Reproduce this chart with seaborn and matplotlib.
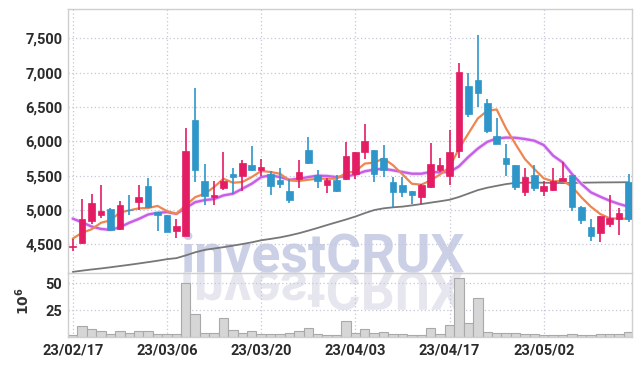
import numpy as np
import pandas as pd
import matplotlib
matplotlib.use("Agg")
import matplotlib.pyplot as plt
import matplotlib.patheffects as pe
from matplotlib.textpath import TextPath
from matplotlib.patches import PathPatch
from matplotlib.font_manager import FontProperties
from matplotlib.transforms import Affine2D
import seaborn as sns

# 1. data
tick_labels = ["23/02/17", "23/03/06", "23/03/20", "23/04/03", "23/04/17", "23/05/02"]

opens = [4465, 4517, 4836, 4932, 5020, 4725, 5005, 5111, 5353, 4971,
         4932, 4691, 4627, 6308, 5417, 5188, 5320, 5519, 5500, 5651,
         5578, 5529, 5437, 5271, 5451, 5872, 5515, 5363, 5441, 5456,
         5529, 5848, 5872, 5760, 5407, 5358, 5271, 5188, 5334, 5578,
         5490, 5860, 6805, 6893, 6552, 6075, 5758, 5655, 5257, 5515,
         5282, 5291, 5418, 5510, 5049, 4758, 4661, 4797, 4865, 5403]
highs = [4580, 5160, 5232, 5362, 5025, 5130, 5220, 5362, 5473, 4975,
         4935, 4870, 6190, 6771, 5675, 5422, 5846, 5617, 5724, 5938,
         5748, 5568, 5617, 5456, 5725, 6059, 5578, 5471, 5505, 5995,
         5850, 6250, 5875, 5946, 5480, 5480, 5280, 5372, 5977, 5763,
         6162, 7136, 6990, 7550, 6610, 6347, 5968, 5660, 5612, 5655,
         5427, 5612, 5694, 5515, 5052, 4869, 4920, 5224, 5030, 5524]
lows = [4400, 4510, 4800, 4884, 4710, 4715, 4935, 5000, 5029, 4700,
        4680, 4594, 4620, 5407, 5067, 5067, 5296, 5237, 5271, 5568,
        5490, 5222, 5320, 5100, 5324, 5667, 5324, 5250, 5260, 5431,
        5456, 5750, 5407, 5480, 5039, 5186, 5091, 5091, 5320, 5554,
        5359, 5763, 6357, 6503, 6123, 5958, 5490, 5290, 5209, 5282,
        5209, 5282, 5418, 4990, 4797, 4554, 4540, 4748, 4641, 4821]
closes = [4480, 4870, 5106, 4990, 4715, 5072, 4995, 5193, 5048, 4923,
          4686, 4768, 5858, 5578, 5198, 5218, 5422, 5480, 5690, 5578,
          5622, 5349, 5378, 5140, 5549, 5691, 5422, 5431, 5284, 5784,
          5843, 6005, 5529, 5578, 5260, 5260, 5222, 5369, 5666, 5651,
          5841, 7005, 6396, 6708, 6153, 5968, 5666, 5330, 5485, 5320,
          5354, 5427, 5466, 5039, 4855, 4622, 4918, 4884, 4962, 4869]
ma_short = [4585, 4670, 4720, 4815, 4850, 4965, 4995, 5025, 5030, 5060,
            4985, 4945, 5070, 5188, 5237, 5334, 5456, 5398, 5407, 5480,
            5568, 5554, 5529, 5432, 5422, 5441, 5456, 5456, 5456, 5539,
            5564, 5676, 5691, 5750, 5652, 5520, 5383, 5369, 5432, 5519,
            5627, 5894, 6114, 6333, 6445, 6464, 6187, 5960, 5742, 5597,
            5461, 5418, 5427, 5340, 5185, 5049, 4942, 4880, 4875, 4875]
ma_mid = [4875, 4821, 4760, 4725, 4712, 4749, 4815, 4870, 4935, 4960,
          4970, 4945, 5030, 5115, 5145, 5160, 5213, 5237, 5310, 5383,
          5480, 5505, 5480, 5440, 5456, 5480, 5500, 5495, 5480, 5490,
          5515, 5564, 5588, 5603, 5578, 5554, 5529, 5529, 5554, 5549,
          5554, 5636, 5773, 5894, 5992, 6041, 6055, 6052, 6034, 6009,
          5946, 5791, 5694, 5524, 5379, 5258, 5194, 5136, 5088, 5049]
ma_long = [4100, 4118, 4135, 4150, 4167, 4185, 4203, 4222, 4242, 4262,
           4285, 4300, 4340, 4385, 4420, 4440, 4460, 4482, 4505, 4530,
           4560, 4580, 4602, 4630, 4662, 4700, 4740, 4782, 4822, 4862,
           4905, 4955, 5000, 5025, 5040, 5050, 5068, 5087, 5108, 5128,
           5150, 5190, 5240, 5290, 5325, 5352, 5378, 5395, 5398, 5400,
           5398, 5395, 5393, 5395, 5398, 5400, 5402, 5403, 5404, 5405]
volume = [1.7, 10.0, 6.9, 5.4, 2.3, 5.4, 3.2, 5.7, 5.7, 2.3,
          2.3, 2.3, 50.0, 21.7, 3.2, 3.2, 17.7, 6.0, 3.9, 5.7,
          2.3, 2.3, 2.3, 3.2, 5.7, 8.5, 2.3, 1.4, 1.4, 14.6,
          3.2, 7.6, 3.9, 4.8, 2.9, 2.3, 1.4, 1.4, 8.5, 2.9,
          10.6, 54.6, 13.1, 36.2, 4.8, 3.2, 3.2, 3.2, 2.3, 2.3,
          1.4, 1.4, 1.4, 2.3, 1.4, 1.4, 2.3, 2.3, 2.3, 4.8]

df = pd.DataFrame({"open": opens, "high": highs, "low": lows, "close": closes,
                   "ma_short": ma_short, "ma_mid": ma_mid, "ma_long": ma_long,
                   "volume": volume})
df["idx"] = np.arange(len(df))
up_color, down_color = "#e31c64", "#2e96c8"
df["color"] = np.where(df["close"] >= df["open"], up_color, down_color)
df["body_low"] = df[["open", "close"]].min(axis=1)
df["body_h"] = (df["close"] - df["open"]).abs().clip(lower=12)

# 2. figure
sns.set_theme(style="white")
plt.rcParams["font.family"] = ["Roboto", "DejaVu Sans"]
plt.rcParams["font.weight"] = "bold"
fig = plt.figure(figsize=(6.42, 3.66), dpi=100)
fig.patch.set_facecolor("white")
ax = fig.add_axes([0.1064, 0.2549, 0.8785, 0.7197])
ax_v = fig.add_axes([0.1064, 0.0801, 0.8785, 0.1749])
for a in (ax, ax_v):
    a.set_facecolor("none")

# watermark + reflection
wm_font = FontProperties(family="Roboto", weight="bold")
fig.text(180 / 642, 94.3 / 366, "investCRUX", fontproperties=wm_font, fontsize=38.5,
         color="#cbd0e6", ha="left", va="baseline", zorder=-1)
tp = TextPath((0, 0), "investCRUX", size=38.5 * 100 / 72, prop=wm_font)
refl = PathPatch(tp, transform=Affine2D().scale(1, -1).translate(180, 94.3),
                 facecolor="#e6e6ef", edgecolor="none", zorder=-1)
fig.add_artist(refl)

# moving averages
sns.lineplot(data=df, x="idx", y="ma_long", color="#777777", lw=1.3, ax=ax, zorder=2)
sns.lineplot(data=df, x="idx", y="ma_mid", color="#c85ee8", lw=1.7, ax=ax, zorder=2,
             path_effects=[pe.Stroke(linewidth=2.8, foreground="#f0d8f8"), pe.Normal()])
sns.lineplot(data=df, x="idx", y="ma_short", color="#ee8650", lw=1.6, ax=ax, zorder=2)

# candles
ax.vlines(df["idx"], df["low"], df["high"], colors=df["color"], lw=1.2, zorder=3)
ax.bar(df["idx"], df["body_h"], bottom=df["body_low"], width=0.7,
       color=df["color"], edgecolor=df["color"], linewidth=0.5, zorder=4)

# volume
sns.barplot(data=df, x="idx", y="volume", native_scale=True, width=1.0,
            color="#d6d6d6", saturation=1, edgecolor="#a9a9a9", linewidth=0.8,
            errorbar=None, ax=ax_v, zorder=2)

# 3. axes styling
grid_kw = dict(color="#c6c6d8", linestyle=(0, (1, 2)), linewidth=0.9)
xticks = list(range(0, 60, 10))
for a in (ax, ax_v):
    a.set_xlim(-0.47, 59.4)
    a.set_xticks(xticks)
    a.grid(True, **grid_kw)
    a.set_axisbelow(True)
    a.set_xlabel("")
    for s in a.spines.values():
        s.set_color("#cfcfcf")
        s.set_linewidth(1.0)
    a.tick_params(length=0, colors="#2b2b2b", labelsize=10.5)

ax.set_ylim(4088, 7922)
ax.set_yticks([4500, 5000, 5500, 6000, 6500, 7000, 7500])
ax.set_yticklabels([f"{v:,}" for v in [4500, 5000, 5500, 6000, 6500, 7000, 7500]])
ax.set_ylabel("")
ax.tick_params(axis="x", labelbottom=False)
ax.tick_params(axis="y", pad=4.3)
ax.spines["bottom"].set_visible(False)

ax_v.set_ylim(0, 60)
ax_v.set_yticks([25, 50])
ax_v.set_xticklabels(tick_labels)
ax_v.tick_params(axis="x", pad=5)
ax_v.tick_params(axis="y", pad=4.3)
ax_v.set_ylabel(r"$10^6$", fontsize=10, color="#333333")
ax_v.yaxis.set_label_coords(-0.064, 0.55)

fig.savefig("out.png", dpi=100, facecolor="white")
